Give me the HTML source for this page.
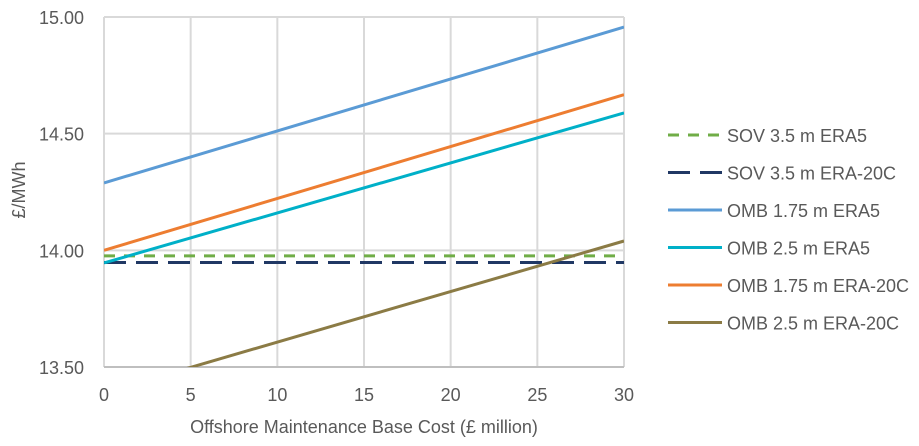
<!DOCTYPE html>
<html><head><meta charset="utf-8"><style>
body{margin:0;background:#fff;}
svg{display:block;font-family:"Liberation Sans",sans-serif;}
</style></head><body>
<svg id="chart" width="919" height="446">
<defs><clipPath id="plotclip"><rect x="104" y="17" width="520" height="350"/></clipPath></defs>
<g id="grid"></g>
<g id="axes"></g>
<g id="series" clip-path="url(#plotclip)"></g>
<g id="legend"></g>
<text x="25" y="190" transform="rotate(-90 25 190)" text-anchor="middle" font-size="18" fill="#595959">£/MWh</text>
<text x="364" y="433" text-anchor="middle" font-size="18" fill="#595959">Offshore Maintenance Base Cost (£ million)</text>
</svg>
<script>
const xTicks=[0,5,10,15,20,25,30];
const yTicks=[13.5,14.0,14.5,15.0];
const yTickLabels=["13.50","14.00","14.50","15.00"];
const xValues=[0,30];
const seriesNames=["SOV 3.5 m ERA5","SOV 3.5 m ERA-20C","OMB 1.75 m ERA5","OMB 2.5 m ERA5","OMB 1.75 m ERA-20C","OMB 2.5 m ERA-20C"];
const sovEra5=[13.976,13.976];
const sovEra20c=[13.948,13.948];
const omb175Era5=[14.289,14.957];
const omb25Era5=[13.946,14.589];
const omb175Era20c=[14.0,14.667];
const omb25Era20c=[13.39,14.04];
const seriesData=[sovEra5,sovEra20c,omb175Era5,omb25Era5,omb175Era20c,omb25Era20c];
const colors=["#70ad47","#203864","#5b9bd5","#00b0c8","#ed7d31","#8b7b45"];
const dashes=["11,9","22,10","","","",""];
const X0=104,X1=624,Y0=367,Y1=17;
const sx=v=>X0+(v-0)/30*(X1-X0);
const sy=v=>Y0-(v-13.5)/1.5*(Y0-Y1);
const NS="http://www.w3.org/2000/svg";
function mk(t,a,p){const e=document.createElementNS(NS,t);for(const k in a)e.setAttribute(k,a[k]);p.appendChild(e);return e;}
const grid=document.getElementById('grid'),axes=document.getElementById('axes'),ser=document.getElementById('series'),leg=document.getElementById('legend');
xTicks.forEach((t,i)=>{
 const l=mk('line',{x1:sx(t),x2:sx(t),y1:Y1,y2:Y0,stroke:'#d9d9d9','stroke-width':2},grid);
 
 
 const tx=mk('text',{x:sx(t),y:Y0+34,'text-anchor':'middle','font-size':18,fill:'#595959'},axes);
 tx.textContent=t;
 
 
});
yTicks.forEach((t,i)=>{
 const l=mk('line',{x1:X0,x2:X1,y1:sy(t),y2:sy(t),stroke:i===0?'#bfbfbf':'#d9d9d9','stroke-width':2},grid);
 
 
 const tx=mk('text',{x:X0-20,y:sy(t)+7,'text-anchor':'end','font-size':18,fill:'#595959'},axes);
 tx.textContent=yTickLabels[i];
 
 
});
seriesData.forEach((d,i)=>{
 const pts=d.map((v,j)=>sx(xValues[j])+','+sy(v)).join(' ');
 const a={points:pts,fill:'none',stroke:colors[i],'stroke-width':3};
 if(dashes[i])a['stroke-dasharray']=dashes[i];
 const p=mk('polyline',a,ser);
 
 
 const ly=135+i*37.5;
 const la={x1:668,x2:722,y1:ly,y2:ly,stroke:colors[i],'stroke-width':3};
 if(dashes[i])la['stroke-dasharray']=dashes[i];
 const ll=mk('line',la,leg);
 
 
 const lt=mk('text',{x:727,y:ly+7,'font-size':18,fill:'#595959'},leg);
 lt.textContent=seriesNames[i];
 
 
});
</script>
</body></html>
